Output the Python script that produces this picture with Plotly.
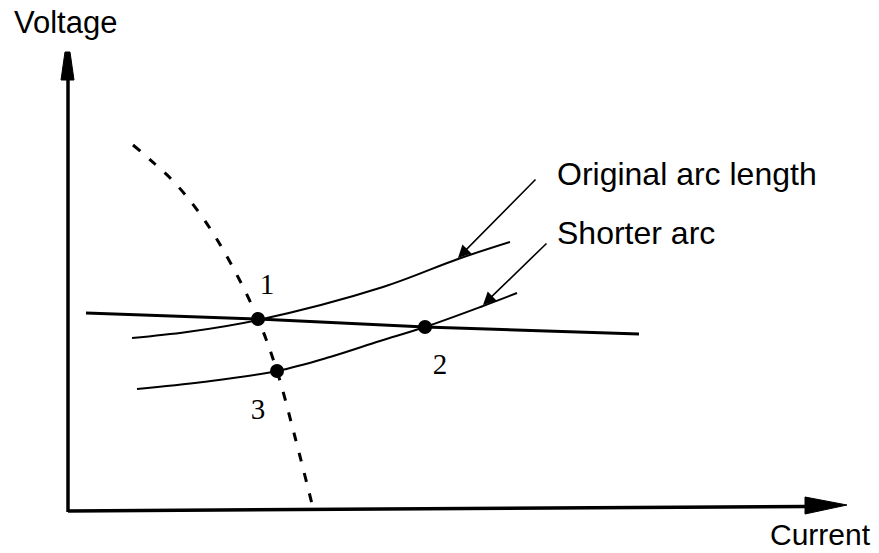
import plotly.graph_objects as go

# --- data (abstract current / voltage units) ---
dashed_x = [65, 87, 107, 135, 162, 190, 209, 227, 245]
dashed_y = [366, 347, 328, 293, 249, 192, 140, 74, 3]

load_x = [18, 190, 357, 571]
load_y = [198, 192, 184, 177]

orig_x = [64, 119, 190, 315, 390, 442]
orig_y = [173, 179, 191, 224, 252, 269]

short_x = [69, 135, 209, 262, 312, 357, 415, 449]
short_y = [122, 129, 140, 154, 170, 184, 205, 218]

pt_x = [190, 357, 209]
pt_y = [192, 184, 140]
pt_labels = ["1", "2", "3"]
pt_label_x = [199, 372, 190]
pt_label_y = [224, 144, 99]

x_axis_end = 737
y_axis_end = 431

fig = go.Figure()

black = "#000000"

# axes lines
fig.add_trace(go.Scatter(x=[0, 0], y=[-1, y_axis_end], mode="lines",
                         line=dict(color=black, width=3.5), hoverinfo="skip"))
fig.add_trace(go.Scatter(x=[0, x_axis_end], y=[0, 4.5], mode="lines",
                         line=dict(color=black, width=3.5), hoverinfo="skip"))
# arrowheads
fig.add_trace(go.Scatter(x=[-7, 6, 2, -3, -7], y=[y_axis_end, y_axis_end, 459, 459, y_axis_end],
                         mode="lines", fill="toself", fillcolor=black,
                         line=dict(color=black, width=1), hoverinfo="skip"))
fig.add_trace(go.Scatter(x=[x_axis_end, x_axis_end, 779, x_axis_end], y=[14, -3, 6, 14],
                         mode="lines", fill="toself", fillcolor=black,
                         line=dict(color=black, width=1), hoverinfo="skip"))

# curves
fig.add_trace(go.Scatter(x=dashed_x, y=dashed_y, mode="lines",
                         line=dict(color=black, width=3, dash="9px,12px", shape="spline", smoothing=1.0),
                         hoverinfo="skip"))
fig.add_trace(go.Scatter(x=load_x, y=load_y, mode="lines",
                         line=dict(color=black, width=3), hoverinfo="skip"))
fig.add_trace(go.Scatter(x=orig_x, y=orig_y, mode="lines",
                         line=dict(color=black, width=2, shape="spline", smoothing=1.0),
                         hoverinfo="skip"))
fig.add_trace(go.Scatter(x=short_x, y=short_y, mode="lines",
                         line=dict(color=black, width=2, shape="spline", smoothing=1.0),
                         hoverinfo="skip"))
# operating points
fig.add_trace(go.Scatter(x=pt_x, y=pt_y, mode="markers",
                         marker=dict(color=black, size=14), hoverinfo="skip"))
# point labels
fig.add_trace(go.Scatter(x=pt_label_x, y=pt_label_y, mode="text", text=pt_labels,
                         textfont=dict(family="Liberation Serif, Times New Roman, serif",
                                       size=29, color=black),
                         hoverinfo="skip"))

sans = "Liberation Sans, Arial, Helvetica, sans-serif"
annotations = [
    dict(x=-3, y=489, text="Voltage", showarrow=False, xanchor="center", yanchor="middle",
         font=dict(family=sans, size=31, color=black)),
    dict(x=752, y=-23, text="Current", showarrow=False, xanchor="center", yanchor="middle",
         font=dict(family=sans, size=30, color=black)),
    dict(x=487, y=337, text="Original arc length", showarrow=False, xanchor="left", yanchor="middle",
         font=dict(family=sans, size=32, color=black)),
    dict(x=487, y=278, text="Shorter arc", showarrow=False, xanchor="left", yanchor="middle",
         font=dict(family=sans, size=32, color=black)),
    dict(x=390, y=253, ax=469, ay=333, xref="x", yref="y", axref="x", ayref="y",
         text="", showarrow=True, arrowhead=2, arrowsize=1.6, arrowwidth=1.6, arrowcolor=black),
    dict(x=415, y=206, ax=480, ay=269, xref="x", yref="y", axref="x", ayref="y",
         text="", showarrow=True, arrowhead=2, arrowsize=1.6, arrowwidth=1.6, arrowcolor=black),
]

fig.update_layout(
    width=879, height=553,
    margin=dict(l=0, r=0, t=0, b=0),
    paper_bgcolor="white", plot_bgcolor="white",
    showlegend=False,
    xaxis=dict(range=[-68, 811], visible=False, fixedrange=True),
    yaxis=dict(range=[-42, 511], visible=False, fixedrange=True),
    annotations=annotations,
)

fig.write_html("out.html", config={"displayModeBar": False},
               post_script="document.body.style.margin='0px';document.body.style.overflow='hidden';")
